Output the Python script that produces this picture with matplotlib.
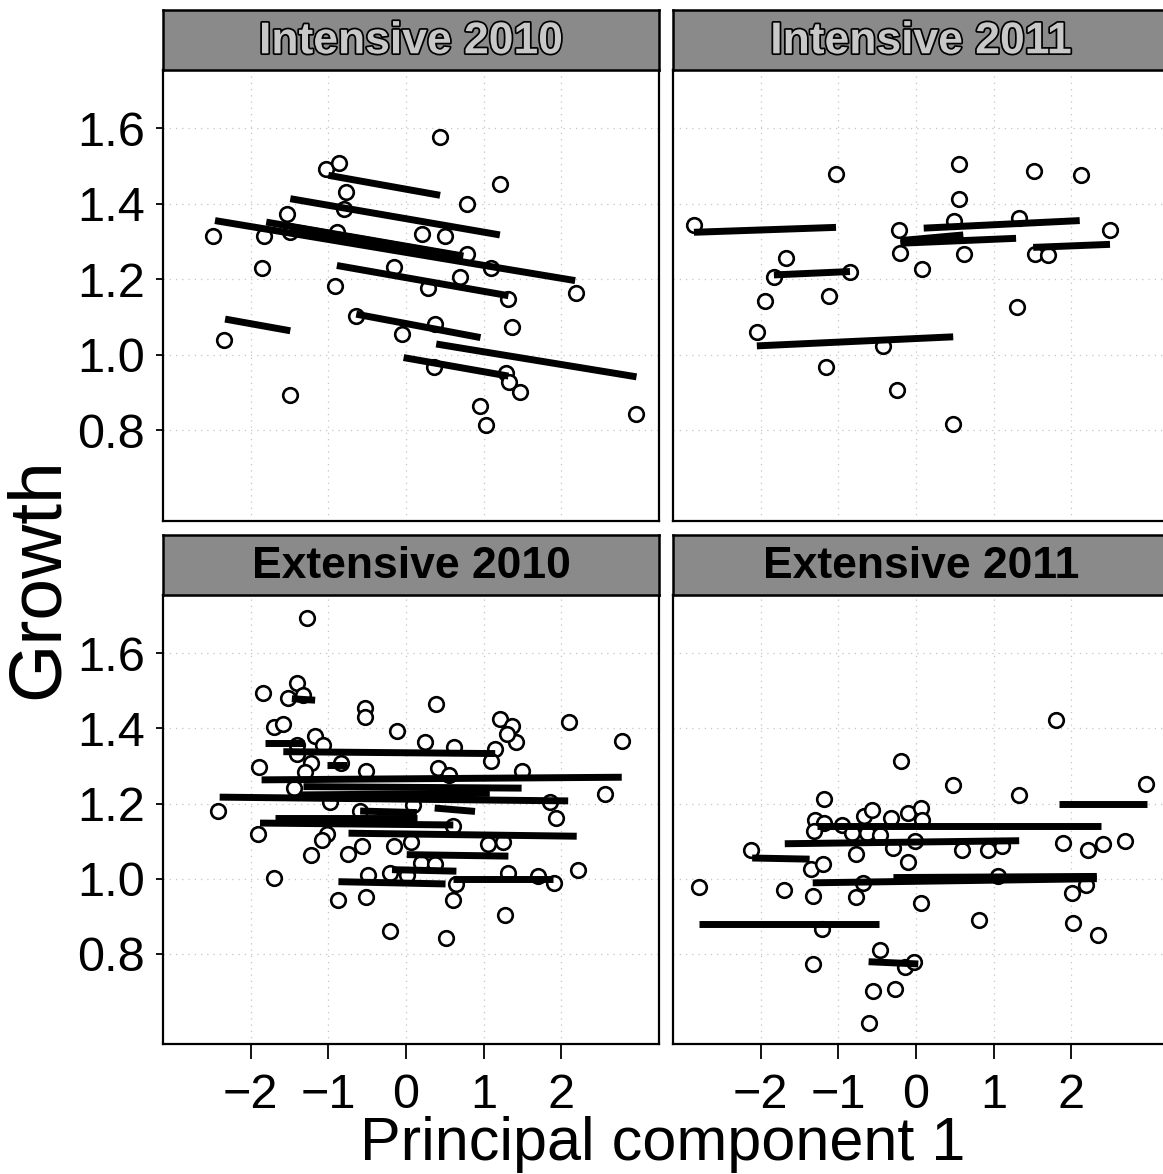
import matplotlib
matplotlib.use("Agg")
import matplotlib.pyplot as plt
import matplotlib.patheffects as pe

plt.rcParams['font.family'] = ['Liberation Sans', 'DejaVu Sans']

# ---- data ----
# Intensive 2010
i10_x = [-2.48, -2.35, -1.86, -1.83, -1.53, -1.49, -1.49, -1.03, -0.91, -0.89, -0.86, -0.80,
         -0.77, -0.64, -0.15, -0.05, 0.21, 0.29, 0.36, 0.38, 0.44, 0.50, 0.70, 0.79, 0.79,
         0.96, 1.03, 1.10, 1.21, 1.29, 1.32, 1.33, 1.37, 1.47, 2.19, 2.97]
i10_y = [1.315, 1.039, 1.23, 1.316, 1.374, 1.326, 0.895, 1.492, 1.182, 1.325, 1.508, 1.387,
         1.432, 1.104, 1.233, 1.055, 1.321, 1.177, 0.967, 1.082, 1.578, 1.314, 1.206, 1.40, 1.268,
         0.865, 0.815, 1.23, 1.453, 0.953, 1.148, 0.928, 1.075, 0.902, 1.164, 0.844]
i10_x0 = [-1.00, -1.49, -2.46, -1.80, -1.49, -0.89, -2.33, -0.64, 0.39, -0.03]
i10_x1 = [0.44, 1.21, 2.18, 0.74, 0.70, 1.32, -1.49, 0.96, 2.97, 1.32]
i10_y0 = [1.476, 1.414, 1.356, 1.352, 1.340, 1.237, 1.095, 1.108, 1.029, 0.993]
i10_y1 = [1.423, 1.318, 1.197, 1.262, 1.262, 1.157, 1.064, 1.046, 0.942, 0.944]

# Intensive 2011
i11_x = [-2.86, -1.03, 0.56, 1.52, 2.12, 0.56, 0.49, 1.33, -0.22, 2.50, -0.20, 0.62, 1.53,
         1.70, -1.68, 0.08, -1.83, -0.85, -1.95, -1.12, 1.30, -2.05, -0.42, -1.16, -0.25, 0.48]
i11_y = [1.343, 1.479, 1.505, 1.488, 1.476, 1.413, 1.356, 1.363, 1.330, 1.332, 1.270, 1.268, 1.268,
         1.265, 1.256, 1.228, 1.206, 1.219, 1.144, 1.157, 1.126, 1.060, 1.024, 0.967, 0.907, 0.816]
i11_x0 = [-2.86, -1.83, -2.05, 0.10, -0.20, -0.20, 1.51]
i11_x1 = [-1.03, -0.85, 0.48, 2.11, 0.61, 1.29, 2.50]
i11_y0 = [1.325, 1.212, 1.024, 1.336, 1.303, 1.296, 1.285]
i11_y1 = [1.338, 1.221, 1.048, 1.356, 1.318, 1.309, 1.293]

# Extensive 2010
e10_x = [-1.28, -1.84, -1.40, -1.52, -1.33, -0.53, -0.53, 0.39, 2.10, 1.21, 1.36, -1.70, -1.59,
         -0.11, 2.78, -1.17, -1.07, 0.25, 0.62, 1.42, 1.30, 1.15, 1.10, -1.89, -1.40, -1.22,
         -0.84, -0.51, -1.30, 0.41, 1.50, -1.44, 2.57, -2.42, -0.98, 1.86, 1.93, -1.91, 0.61,
         -1.02, -1.08, -1.22, -0.57, -0.75, -0.16, 0.07, 1.06, 1.25, -1.70, -0.49, 0.01, -0.21,
         0.20, 0.37, 1.32, 1.70, 1.91, 2.22, 0.65, -0.87, -0.51, 0.61, 1.27, -0.20, 0.51,
         -1.41, -0.59, 0.09, 0.55]
e10_y = [1.695, 1.495, 1.52, 1.482, 1.488, 1.455, 1.43, 1.464, 1.417, 1.424, 1.407, 1.404, 1.413,
         1.393, 1.367, 1.380, 1.355, 1.364, 1.351, 1.364, 1.386, 1.346, 1.313, 1.296, 1.331, 1.309,
         1.309, 1.287, 1.283, 1.294, 1.287, 1.241, 1.226, 1.181, 1.205, 1.205, 1.161, 1.120, 1.139,
         1.120, 1.102, 1.064, 1.088, 1.066, 1.088, 1.098, 1.091, 1.097, 1.002, 1.011, 1.011, 1.015,
         1.042, 1.040, 1.015, 1.007, 0.989, 1.022, 0.985, 0.943, 0.952, 0.943, 0.903, 0.861, 0.843,
         1.355, 1.179, 1.197, 1.275]
e10_x0 = [-1.82, -1.58, -1.47, -1.86, -1.32, -2.40, -1.37, -1.69, -1.88, 0.37, -0.74, 0.01,
          -0.18, -0.87, 0.61, -0.59, -1.02]
e10_x1 = [-1.31, 1.15, -1.17, 2.78, 1.49, 2.09, 1.08, 0.14, 0.61, 0.89, 2.20, 1.32,
          0.65, 0.51, 1.90, 0.14, -0.76]
e10_y0 = [1.362, 1.338, 1.479, 1.263, 1.245, 1.217, 1.223, 1.161, 1.148, 1.188, 1.121, 1.064,
          1.024, 0.992, 0.998, 1.180, 1.302]
e10_y1 = [1.362, 1.333, 1.475, 1.270, 1.241, 1.207, 1.227, 1.161, 1.143, 1.179, 1.113, 1.060,
          1.020, 0.986, 0.998, 1.176, 1.302]

# Extensive 2011
e11_x = [1.81, -0.19, 0.48, 1.33, 2.97, -1.19, -1.30, -1.19, -0.95, -0.67, -0.57, -0.32, -0.10,
         0.06, 0.08, -1.31, -0.82, -0.63, -0.46, -0.29, -0.01, -0.77, -0.10, -2.13, -1.35, -1.20,
         0.59, 0.93, 1.11, 1.90, 2.22, 2.41, 2.69, -2.80, -1.70, -1.33, -0.77, -0.68, 0.06,
         1.06, 2.01, 2.19, 0.81, 2.02, 2.35, -1.21, -1.33, -0.46, -0.14, -0.03, -0.55, -0.27, -0.61]
e11_y = [1.422, 1.313, 1.248, 1.223, 1.251, 1.211, 1.157, 1.148, 1.144, 1.168, 1.183, 1.161, 1.176,
         1.188, 1.157, 1.128, 1.121, 1.121, 1.117, 1.082, 1.099, 1.066, 1.044, 1.077, 1.027, 1.038,
         1.075, 1.075, 1.086, 1.095, 1.075, 1.092, 1.099, 0.977, 0.969, 0.955, 0.951, 0.989, 0.936,
         1.007, 0.962, 0.982, 0.889, 0.883, 0.850, 0.865, 0.773, 0.810, 0.764, 0.777, 0.702, 0.706, 0.615]
e11_x0 = [1.84, -1.27, -1.69, -2.11, -1.33, -0.29, -2.80, -0.61]
e11_x1 = [2.98, 2.39, 1.33, -1.37, 2.33, 2.33, -0.47, 0.03]
e11_y0 = [1.199, 1.140, 1.093, 1.055, 0.989, 1.003, 0.880, 0.779]
e11_y1 = [1.199, 1.140, 1.101, 1.052, 1.000, 1.006, 0.880, 0.773]

titles = ["Intensive 2010", "Intensive 2011", "Extensive 2010", "Extensive 2011"]
xticks = [-2, -1, 0, 1, 2]
yticks = [0.8, 1.0, 1.2, 1.4, 1.6]

W, H = 1163, 1174
fig = plt.figure(figsize=(W / 100, H / 100), dpi=100)


def px_box(l, t, r, b):
    return [l / W, 1 - b / H, (r - l) / W, (b - t) / H]


panels = [
    (i10_x, i10_y, i10_x0, i10_x1, i10_y0, i10_y1, 163, 70, 521, True, False),
    (i11_x, i11_y, i11_x0, i11_x1, i11_y0, i11_y1, 673, 70, 521, False, False),
    (e10_x, e10_y, e10_x0, e10_x1, e10_y0, e10_y1, 163, 595, 1044, True, True),
    (e11_x, e11_y, e11_x0, e11_x1, e11_y0, e11_y1, 673, 595, 1044, False, True),
]

for k, (px, py, x0, x1, y0, y1, left, top, bot, show_y, show_x) in enumerate(panels):
    ax = fig.add_axes(px_box(left, top, left + 496, bot))
    ax.set_xlim(-3.13, 3.26)
    ax.set_ylim(0.56, 1.755)
    ax.set_xticks(xticks)
    ax.set_yticks(yticks)
    ax.grid(True, color='#c4c4c4', linestyle=(0, (1, 4)), linewidth=0.9)
    ax.set_axisbelow(True)
    ax.plot(px, py, 'o', ms=10.5, mfc='white', mec='black', mew=1.9, zorder=3)
    for a, b, c, d in zip(x0, x1, y0, y1):
        ax.plot([a, b], [c, d], color='black', lw=5, solid_capstyle='butt', zorder=4)
    for s in ax.spines.values():
        s.set_linewidth(1.6)
    ax.tick_params(axis='x', direction='out', length=11, width=1.3, pad=10,
                   labelsize=35, bottom=show_x, labelbottom=show_x)
    ax.tick_params(axis='y', direction='out', length=5, width=1.3, pad=8,
                   labelsize=35, left=show_y, labelleft=show_y)
    ax.set_yticklabels(["0.8", "1.0", "1.2", "1.4", "1.6"])

    # strip
    st = fig.add_axes(px_box(left, top - 60, left + 496, top))
    st.set_facecolor('#8a8a8a')
    st.set_xticks([])
    st.set_yticks([])
    for s in st.spines.values():
        s.set_linewidth(1.8)
    if k < 2:
        st.text(0.5, 0.47, titles[k], ha='center', va='center', fontsize=32, fontweight='bold',
                color='#c8c8c8', transform=st.transAxes,
                path_effects=[pe.withStroke(linewidth=2.5, foreground='black')])
    else:
        st.text(0.5, 0.47, titles[k], ha='center', va='center', fontsize=32, fontweight='bold',
                color='black', transform=st.transAxes)

fig.text(38 / W, 1 - 578 / H, "Growth", rotation=90, ha='center', va='center', fontsize=54)
fig.text(663 / W, 1 - 1160 / H, "Principal component 1", ha='center', va='baseline', fontsize=44)

fig.savefig("out.png", dpi=100)
